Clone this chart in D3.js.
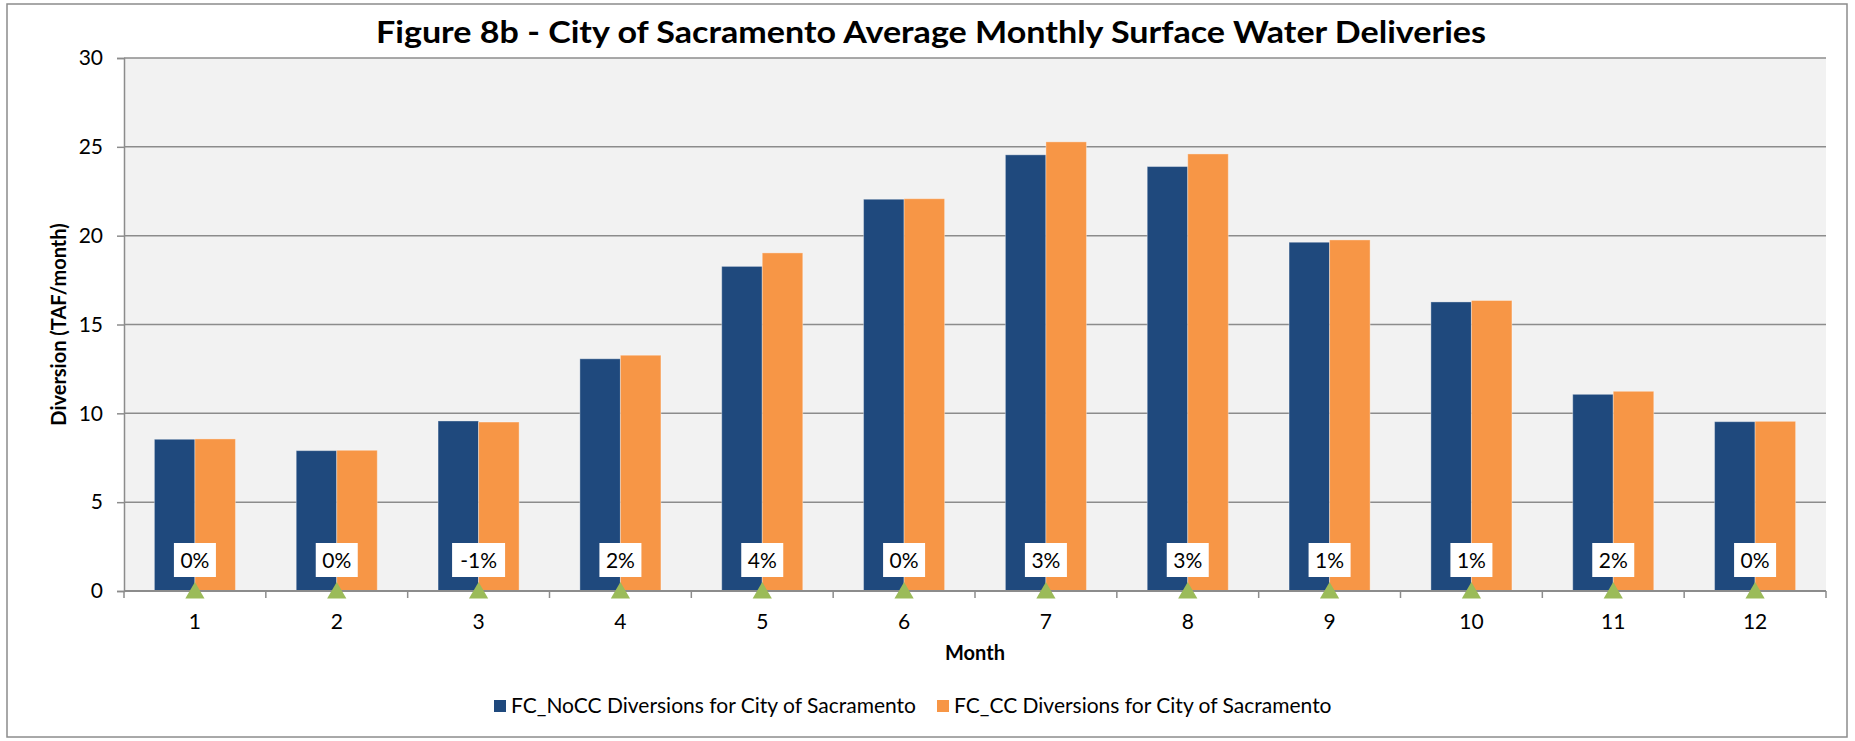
<!DOCTYPE html>
<html>
<head>
<meta charset="utf-8">
<script src="https://cdn.jsdelivr.net/npm/d3@7"></script>
<style>
  body { margin: 0; background: #fff; }
  svg { display: block; font-family: Lato, "Open Sans", sans-serif; }
</style>
</head>
<body>
<script>
// chart data
const months = [1, 2, 3, 4, 5, 6, 7, 8, 9, 10, 11, 12];
const noCC = [8.54, 7.9, 9.57, 13.07, 18.27, 22.05, 24.55, 23.89, 19.63, 16.27, 11.07, 9.53];
const withCC = [8.56, 7.92, 9.51, 13.27, 19.03, 22.08, 25.28, 24.6, 19.76, 16.35, 11.24, 9.55];
const changeLabels = ["0%", "0%", "-1%", "2%", "4%", "0%", "3%", "3%", "1%", "1%", "2%", "0%"];
const markerValues = [0, 0, 0, 0, 0, 0, 0, 0, 0, 0, 0, 0];
const yTicks = [0, 5, 10, 15, 20, 25, 30];
const seriesNames = ["FC_NoCC Diversions for City of Sacramento", "FC_CC Diversions for City of Sacramento"];

function main(){
    const canvasWidth = 1855;
    const canvasHeight = 741;
    const colors = ["#1F497D", "#F79646"];

    const svg = d3.select("body").append("svg")
        .attr("width", canvasWidth)
        .attr("height", canvasHeight);

    // outer chart frame
    svg.append("rect")
        .attr("x", 7).attr("y", 4)
        .attr("width", 1840).attr("height", 733)
        .attr("fill", "#fff")
        .attr("stroke", "#8c8c8c")
        .attr("stroke-width", 1.5);

    const plot = {left: 124, right: 1826, top: 58, bottom: 591};

    let xScale = d3.scaleBand().domain(months).range([plot.left, plot.right]);
    let yScale = d3.scaleLinear().domain([0, 30]).range([plot.bottom, plot.top]);

    const barW = xScale.bandwidth() / 3.5;   // gap width 150%
    let x1 = d3.scaleBand().domain([0, 1]).range([0, barW * 2]);
    const groupOffset = (xScale.bandwidth() - barW * 2) / 2;

    // plot background
    svg.append("rect")
        .attr("x", plot.left).attr("y", plot.top)
        .attr("width", plot.right - plot.left)
        .attr("height", plot.bottom - plot.top)
        .attr("fill", "#F2F2F2");

    // gridlines
    svg.append("g")
        .selectAll("line")
        .data(yTicks.filter(d => d > 0))
        .enter().append("line")
        .attr("x1", plot.left).attr("x2", plot.right)
        .attr("y1", d => yScale(d)).attr("y2", d => yScale(d))
        .attr("stroke", "#8c8c8c")
        .attr("stroke-width", 1.5);

    // bars
    const series = [noCC, withCC];
    series.forEach((vals, s) => {
        svg.append("g")
            .selectAll("rect")
            .data(vals)
            .enter().append("rect")
            .attr("x", (d, i) => xScale(months[i]) + groupOffset + x1(s))
            .attr("y", d => yScale(d))
            .attr("width", x1.bandwidth())
            .attr("height", d => yScale(0) - yScale(d))
            .attr("fill", colors[s])
            .attr("stroke", "rgba(255,255,255,0.35)")
            .attr("stroke-width", 1);
    });

    // y axis
    const yAxis = svg.append("g")
        .attr("transform", "translate(" + plot.left + ",0)")
        .call(d3.axisLeft(yScale).tickValues(yTicks).tickSize(7).tickPadding(14));
    yAxis.select(".domain").attr("stroke", "#8c8c8c").attr("stroke-width", 1.5);
    yAxis.selectAll(".tick line").attr("stroke", "#8c8c8c").attr("stroke-width", 1.5);
    yAxis.selectAll(".tick text")
        .attr("font-size", "21px")
        .attr("font-family", "Lato, sans-serif")
        .attr("fill", "#000");

    // x axis: line plus ticks at category boundaries
    const xg = svg.append("g");
    xg.append("line")
        .attr("x1", plot.left).attr("x2", plot.right)
        .attr("y1", plot.bottom).attr("y2", plot.bottom)
        .attr("stroke", "#8c8c8c").attr("stroke-width", 2);
    const bounds = months.map(m => xScale(m)).concat([plot.right]);
    xg.selectAll(".bt")
        .data(bounds)
        .enter().append("line")
        .attr("x1", d => d).attr("x2", d => d)
        .attr("y1", plot.bottom).attr("y2", plot.bottom + 7)
        .attr("stroke", "#8c8c8c").attr("stroke-width", 1.5);
    xg.selectAll(".lbl")
        .data(months)
        .enter().append("text")
        .attr("x", d => xScale(d) + xScale.bandwidth() / 2)
        .attr("y", 629)
        .attr("text-anchor", "middle")
        .attr("font-size", "21px")
        .text(d => d);

    // change markers (triangles at zero) with labels
    const center = i => xScale(months[i]) + xScale.bandwidth() / 2;
    const tri = d3.symbol().type(d3.symbolTriangle).size(160);
    svg.append("g")
        .selectAll("path")
        .data(markerValues)
        .enter().append("path")
        .attr("d", tri)
        .attr("transform", (d, i) => "translate(" + center(i) + "," + (yScale(d) + 2) + ")")
        .attr("fill", "#9BBB59");

    const lblG = svg.append("g")
        .selectAll("g")
        .data(changeLabels)
        .enter().append("g")
        .attr("transform", (d, i) => "translate(" + center(i) + "," + (yScale(markerValues[i]) - 31) + ")");
    lblG.append("rect")
        .attr("x", d => -(d.length * 11 + 20) / 2)
        .attr("y", -17)
        .attr("width", d => d.length * 11 + 20)
        .attr("height", 34)
        .attr("fill", "#fff");
    lblG.append("text")
        .attr("text-anchor", "middle")
        .attr("dy", "0.36em")
        .attr("font-size", "21px")
        .text(d => d);

    // title
    svg.append("text")
        .attr("x", 931)
        .attr("y", 43)
        .attr("text-anchor", "middle")
        .attr("font-size", "30px")
        .attr("font-weight", "bold")
        .attr("textLength", 1110)
        .attr("lengthAdjust", "spacingAndGlyphs")
        .text("Figure 8b - City of Sacramento Average Monthly Surface Water Deliveries");

    // axis titles
    svg.append("text")
        .attr("transform", "translate(66," + ((plot.top + plot.bottom) / 2) + ") rotate(-90)")
        .attr("text-anchor", "middle")
        .attr("font-size", "20px")
        .attr("font-weight", "bold")
        .text("Diversion (TAF/month)");

    svg.append("text")
        .attr("x", (plot.left + plot.right) / 2)
        .attr("y", 660)
        .attr("text-anchor", "middle")
        .attr("font-size", "20px")
        .attr("font-weight", "bold")
        .text("Month");

    // legend
    const legendX = [494, 937];
    const leg = svg.append("g")
        .selectAll("g")
        .data(seriesNames)
        .enter().append("g")
        .attr("transform", (d, i) => "translate(" + legendX[i] + ",706)");
    leg.append("rect")
        .attr("x", 0).attr("y", -6)
        .attr("width", 12).attr("height", 12)
        .attr("fill", (d, i) => colors[i]);
    leg.append("text")
        .attr("x", 17)
        .attr("dy", "0.35em")
        .attr("font-size", "21px")
        .text(d => d);
}
main();
</script>
</body>
</html>
